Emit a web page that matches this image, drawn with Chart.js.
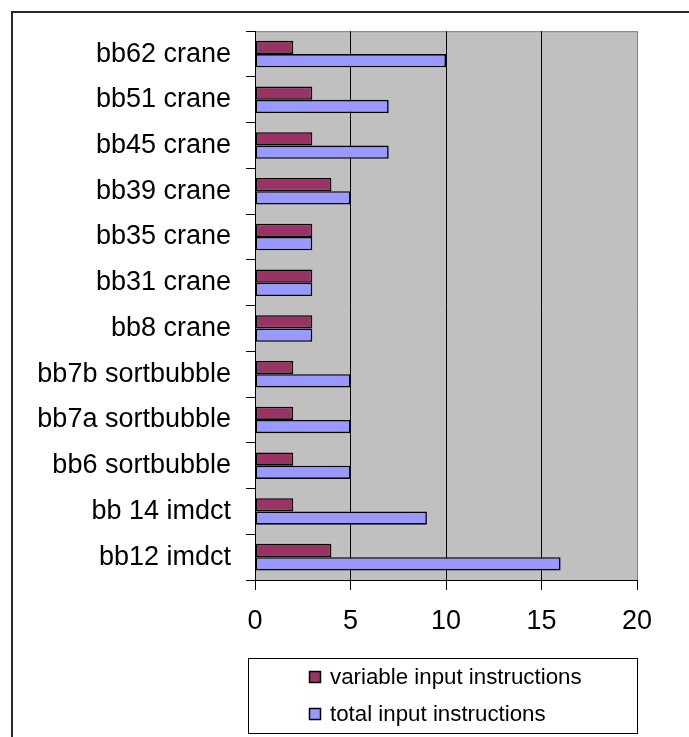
<!DOCTYPE html>
<html>
<head>
<meta charset="utf-8">
<script src="https://cdn.jsdelivr.net/npm/chart.js@4/dist/chart.umd.min.js"></script>
<style>
  html, body { margin: 0; padding: 0; background: #fff; }
  #wrap { position: relative; width: 689px; height: 737px; overflow: hidden; }
  #frame { position: absolute; left: 11px; top: 11px; width: 760px; height: 800px;
           border-left: 2px solid #2a2a2a; border-top: 2px solid #2a2a2a; }
  #chart { position: absolute; left: 0; top: 0; }
</style>
</head>
<body>
<div id="wrap">
  <div id="frame"></div>
  <canvas id="chart" width="689" height="737"></canvas>
</div>
<script>
// Basic blocks, listed top to bottom
const blocks = [
  'bb62 crane', 'bb51 crane', 'bb45 crane', 'bb39 crane', 'bb35 crane',
  'bb31 crane', 'bb8 crane', 'bb7b sortbubble', 'bb7a sortbubble',
  'bb6 sortbubble', 'bb 14 imdct', 'bb12 imdct'
];
const variableInput = [2, 3, 3, 4, 3, 3, 3, 2, 2, 2, 2, 4];
const totalInput    = [10, 7, 7, 5, 3, 3, 3, 5, 5, 5, 9, 16];
const xTicks = [0, 5, 10, 15, 20];

const FONT = '"Liberation Sans", Arial, sans-serif';

// Grey plot background with a grey top edge
const plotBackground = {
  id: 'plotBackground',
  beforeDraw(chart) {
    const { ctx, chartArea: a } = chart;
    ctx.save();
    ctx.fillStyle = '#C0C0C0';
    ctx.fillRect(a.left, a.top, a.right - a.left, a.bottom - a.top);
    ctx.strokeStyle = '#808080';
    ctx.lineWidth = 1;
    ctx.beginPath();
    ctx.moveTo(a.left, a.top + 0.5);
    ctx.lineTo(a.right, a.top + 0.5);
    ctx.stroke();
    ctx.restore();
  }
};

// Boxed legend under the axis, one series per row
const boxedLegend = {
  id: 'boxedLegend',
  afterDraw(chart) {
    const { ctx, chartArea: a } = chart;
    const box = { x: a.left - 7, y: 658, w: a.right - a.left + 7, h: 75 };
    ctx.save();
    ctx.strokeStyle = '#000';
    ctx.lineWidth = 1;
    ctx.strokeRect(box.x + 0.5, box.y + 0.5, box.w, box.h);
    ctx.font = '22.3px ' + FONT;
    ctx.textBaseline = 'middle';
    ctx.textAlign = 'left';
    const rows = [677, 714];
    chart.data.datasets.forEach((ds, i) => {
      const cy = rows[i];
      ctx.fillStyle = ds.backgroundColor;
      ctx.fillRect(309.5, cy - 5.5, 11, 11);
      ctx.strokeStyle = '#000';
      ctx.lineWidth = 1.5;
      ctx.strokeRect(309.5, cy - 5.5, 11, 11);
      ctx.fillStyle = '#000';
      ctx.fillText(ds.label, 330, cy + 1);
    });
    ctx.restore();
  }
};

new Chart(document.getElementById('chart'), {
  type: 'bar',
  data: {
    labels: blocks,
    datasets: [
      { label: 'variable input instructions', data: variableInput,
        backgroundColor: '#993366', borderColor: '#000', borderWidth: 1.6, borderSkipped: false },
      { label: 'total input instructions', data: totalInput,
        backgroundColor: '#9999FF', borderColor: '#000', borderWidth: 1.6, borderSkipped: false }
    ]
  },
  options: {
    indexAxis: 'y',
    responsive: false,
    animation: false,
    layout: { padding: { top: 30, right: 52, left: 0, bottom: 0 } },
    datasets: { bar: { categoryPercentage: 0.58, barPercentage: 1.0 } },
    plugins: { legend: { display: false }, tooltip: { enabled: false } },
    scales: {
      x: {
        min: 0, max: 20,
        afterBuildTicks(scale) { scale.ticks = xTicks.map(v => ({ value: v })); },
        afterFit(scale) { scale.height = 157; },
        border: { color: '#000', width: 1 },
        grid: {
          color: c => (c.tick && c.tick.value === 20 ? '#808080' : '#000'),
          tickColor: '#000',
          tickLength: 10,
          lineWidth: 1
        },
        ticks: { color: '#000', padding: 15, font: { family: FONT, size: 27 }, maxRotation: 0 }
      },
      y: {
        afterFit(scale) { scale.width = 255; },
        border: { color: '#000', width: 1 },
        grid: { offset: true, drawOnChartArea: false, color: '#000', tickLength: 9 },
        ticks: { color: '#000', padding: 15, font: { family: FONT, size: 27 }, autoSkip: false }
      }
    }
  },
  plugins: [plotBackground, boxedLegend]
});
</script>
</body>
</html>
